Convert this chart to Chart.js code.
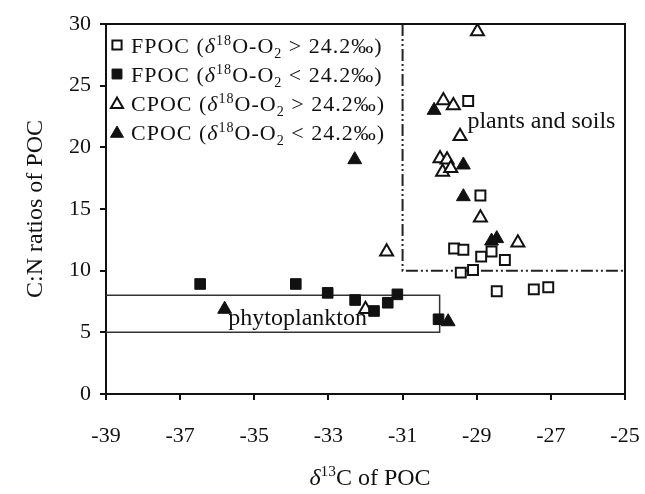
<!DOCTYPE html>
<html>
<head>
<meta charset="utf-8">
<script src="https://cdn.jsdelivr.net/npm/chart.js@4.4.0/dist/chart.umd.min.js"></script>
<style>
  html, body { margin: 0; padding: 0; background: #fff; }
  #chart { display: block; }
</style>
</head>
<body>
<canvas id="chart" width="645" height="494"></canvas>
<script>
// δ13C (x) and C:N (y) of each sample
const fpocHighX = [-29.23, -28.9, -29.61, -29.36, -28.6, -28.88, -28.24, -29.43, -29.1, -28.46, -27.46, -27.07];
const fpocHighY = [23.76, 16.1, 11.8, 11.7, 11.55, 11.14, 10.87, 9.84, 10.06, 8.33, 8.48, 8.65];

const fpocLowX = [-36.46, -33.88, -33.02, -32.28, -31.77, -31.4, -31.14, -30.03];
const fpocLowY = [8.92, 8.92, 8.2, 7.62, 6.73, 7.4, 8.08, 6.06];

const cpocHighX = [-28.98, -29.9, -29.63, -29.45, -29.99, -29.8, -29.92, -29.7, -28.9, -27.89, -31.43, -32.0];
const cpocHighY = [29.4, 23.8, 23.4, 20.9, 19.1, 19.0, 18.0, 18.3, 14.3, 12.27, 11.54, 6.87];

const cpocLowX = [-30.15, -29.36, -29.36, -28.6, -28.46, -32.29, -35.8, -29.77];
const cpocLowY = [23.0, 18.57, 16.0, 12.4, 12.6, 19.0, 6.87, 5.86];

const xTicks = [-39, -37, -35, -33, -31, -29, -27, -25];
const yTicks = [0, 5, 10, 15, 20, 25, 30];

const seriesNames = ['FPOC', 'FPOC', 'CPOC', 'CPOC'];
const seriesSigns = ['>', '<', '>', '<'];
const o2Threshold = '24.2‰';

// source regions
const plantsBoxX = [-31, -31, -25];
const plantsBoxY = [30, 10, 10];
const phytoBoxX = [-39, -30, -30, -39];
const phytoBoxY = [8, 8, 5, 5];

const SERIF = '"Liberation Serif", "Times New Roman", serif';
const INK = '#111';

function toPoints(xs, ys) {
    return xs.map((x, i) => ({ x: x, y: ys[i] }));
}

function legendParts(i) {
    return [
        [seriesNames[i] + ' (', ''],
        ['δ', 'i'],
        ['18', 'sup'],
        ['O-O', ''],
        ['2', 'sub'],
        [' ' + seriesSigns[i] + ' ' + o2Threshold + ')', '']
    ];
}

// draws text pieces one after another, with sub/superscripts
function richText(ctx, parts, x, y, size, draw) {
    let cx = x;
    ctx.textBaseline = 'alphabetic';
    ctx.textAlign = 'left';
    for (const [t, k] of parts) {
        const small = k === 'sup' || k === 'sub';
        const fs = small ? size * 0.64 : size;
        ctx.font = (k === 'i' ? 'italic ' : '') + fs + 'px ' + SERIF;
        const dy = k === 'sup' ? -size * 0.36 : (k === 'sub' ? size * 0.24 : 0);
        if (draw) ctx.fillText(t, cx, y + dy);
        cx += ctx.measureText(t).width;
    }
    return cx - x;
}

const pointStyles = [
    { pointStyle: 'rect', radius: 7, borderWidth: 2, backgroundColor: '#fff' },
    { pointStyle: 'rect', radius: 7.5, borderWidth: 1, backgroundColor: INK },
    { pointStyle: 'triangle', radius: 7.5, borderWidth: 2, backgroundColor: '#fff' },
    { pointStyle: 'triangle', radius: 8, borderWidth: 1, backgroundColor: INK }
];

const decorPlugin = {
    id: 'decor',
    afterDraw(chart) {
        const ctx = chart.ctx;
        const area = chart.chartArea;
        const xs = chart.scales.x;
        const ys = chart.scales.y;
        ctx.save();

        // top and right frame
        ctx.strokeStyle = INK;
        ctx.lineWidth = 2;
        ctx.beginPath();
        ctx.moveTo(area.left, area.top);
        ctx.lineTo(area.right, area.top);
        ctx.lineTo(area.right, area.bottom);
        ctx.stroke();

        ctx.fillStyle = INK;

        // legend
        ctx.letterSpacing = '1px';
        for (let i = 0; i < 4; i++) {
            const cy = 45 + i * 29;
            const st = pointStyles[i];
            ctx.lineWidth = st.borderWidth;
            ctx.strokeStyle = INK;
            ctx.fillStyle = st.backgroundColor;
            Chart.helpers.drawPoint(ctx, {
                pointStyle: st.pointStyle,
                radius: st.radius - 0.5,
                rotation: 0,
                borderWidth: st.borderWidth
            }, 117, cy + (st.pointStyle === 'triangle' ? 1.5 : 0));
            ctx.fillStyle = INK;
            richText(ctx, legendParts(i), 131, cy + 7.5, 22, true);
        }
        ctx.letterSpacing = '0px';

        // region labels
        ctx.font = '24px ' + SERIF;
        ctx.textBaseline = 'alphabetic';
        ctx.textAlign = 'left';
        ctx.fillText('plants and soils', xs.getPixelForValue(-29.25), ys.getPixelForValue(21.6));
        ctx.fillText('phytoplankton', xs.getPixelForValue(-35.7), ys.getPixelForValue(5.6));

        // x axis title
        const title = [['δ', 'i'], ['13', 'sup'], ['C of POC', '']];
        const w = richText(ctx, title, 0, 0, 24, false);
        richText(ctx, title, 370 - w / 2, 485, 24, true);

        ctx.restore();
    }
};

function pointSet(xs, ys, i) {
    const st = pointStyles[i];
    return {
        data: toPoints(xs, ys),
        pointStyle: st.pointStyle,
        pointRadius: st.radius,
        pointBorderWidth: st.borderWidth,
        pointBackgroundColor: st.backgroundColor,
        pointBorderColor: INK,
        showLine: false,
        order: 1
    };
}

function noPad(s) {
    s.paddingLeft = 0;
    s.paddingRight = 0;
    s.paddingTop = 0;
    s.paddingBottom = 0;
}

const ctx = document.getElementById('chart').getContext('2d');
new Chart(ctx, {
    type: 'scatter',
    data: {
        datasets: [
            {
                data: toPoints(phytoBoxX, phytoBoxY),
                showLine: true,
                borderColor: '#333',
                borderWidth: 1.5,
                pointRadius: 0,
                fill: false,
                order: 10
            },
            {
                data: toPoints(plantsBoxX, plantsBoxY),
                showLine: true,
                borderColor: '#222',
                borderWidth: 2,
                borderDash: [12, 3, 2, 3, 2, 3],
                pointRadius: 0,
                fill: false,
                order: 10
            },
            pointSet(fpocHighX, fpocHighY, 0),
            pointSet(fpocLowX, fpocLowY, 1),
            pointSet(cpocHighX, cpocHighY, 2),
            pointSet(cpocLowX, cpocLowY, 3)
        ]
    },
    options: {
        responsive: false,
        animation: false,
        layout: { padding: { top: 24, right: 20, left: 0, bottom: 0 } },
        plugins: {
            legend: { display: false },
            tooltip: { enabled: false }
        },
        scales: {
            x: {
                type: 'linear',
                min: -39,
                max: -25,
                afterBuildTicks: s => { s.ticks = xTicks.map(v => ({ value: v })); },
                afterFit: s => { s.height = 100; noPad(s); },
                grid: { drawOnChartArea: false, drawTicks: true, tickLength: 6, color: INK, lineWidth: 2 },
                border: { display: true, color: INK, width: 2 },
                ticks: { color: INK, padding: 23, font: { family: SERIF, size: 22 } }
            },
            y: {
                type: 'linear',
                min: 0,
                max: 30,
                afterBuildTicks: s => { s.ticks = yTicks.map(v => ({ value: v })); },
                afterFit: s => { s.width = 106; noPad(s); },
                grid: { drawOnChartArea: false, drawTicks: true, tickLength: 6, color: INK, lineWidth: 2 },
                border: { display: true, color: INK, width: 2 },
                ticks: { color: INK, padding: 9, font: { family: SERIF, size: 22 } },
                title: {
                    display: true,
                    text: 'C:N ratios of POC',
                    color: INK,
                    padding: { top: 21, bottom: 0 },
                    font: { family: SERIF, size: 24 }
                }
            }
        }
    },
    plugins: [decorPlugin]
});
</script>
</body>
</html>
